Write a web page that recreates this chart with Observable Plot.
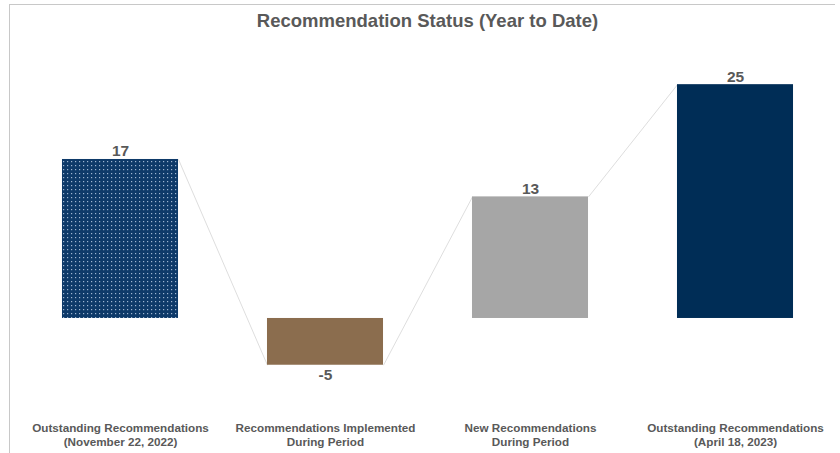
<!DOCTYPE html>
<html>
<head>
<meta charset="utf-8">
<script src="https://cdn.jsdelivr.net/npm/d3@7"></script>
<script src="https://cdn.jsdelivr.net/npm/@observablehq/plot@0.6"></script>
<style>
  html, body { margin: 0; padding: 0; background: #fff; }
  #wrap { position: relative; width: 840px; height: 453px; overflow: hidden; font-family: "Liberation Sans", Arial, sans-serif; }
  #frameTop { position: absolute; left: 9px; top: 4px; width: 826px; height: 0; border-top: 1px solid #c8c8c8; }
  #frameLeft { position: absolute; left: 9px; top: 4px; width: 0; height: 460px; border-left: 1px solid #c8c8c8; }
  #title { position: absolute; left: 0; top: 10px; width: 855px; text-align: center; font-size: 18.5px; font-weight: bold; color: #595959; }
  #chart { position: absolute; left: 0; top: 0; }
</style>
</head>
<body>
<div id="wrap">
  <div id="frameTop"></div>
  <div id="frameLeft"></div>
  <div id="chart"></div>
  <div id="title">Recommendation Status (Year to Date)</div>
</div>
<script>
const categories = [
  "Outstanding Recommendations\n(November 22, 2022)",
  "Recommendations Implemented\nDuring Period",
  "New Recommendations\nDuring Period",
  "Outstanding Recommendations\n(April 18, 2023)"
];
const values = [17, -5, 13, 25];
const labels = ["17", "-5", "13", "25"];
const colors = ["url(#dots)", "#8B6D4E", "#A6A6A6", "#002D56"];

const hw = 0.283;
const data = values.map((v, i) => ({i, v, cat: categories[i], label: labels[i], fill: colors[i]}));
const links = data.slice(0, -1).map((d, k) => ({x1: d.i + hw, y1: d.v, x2: data[k + 1].i - hw, y2: data[k + 1].v}));

const plot = Plot.plot({
  width: 840,
  height: 453,
  marginLeft: 17.5,
  marginRight: 2.5,
  marginTop: 37.4,
  marginBottom: 41.5,
  x: {domain: [-0.5, 3.5], axis: null},
  y: {domain: [-10, 30], axis: null},
  style: {background: "transparent", fontFamily: "Liberation Sans, Arial, sans-serif"},
  marks: [
    Plot.link(links, {x1: "x1", y1: "y1", x2: "x2", y2: "y2", stroke: "#dedede", strokeWidth: 1}),
    Plot.rectY(data, {x1: d => d.i - hw, x2: d => d.i + hw, y1: 0, y2: "v", fill: d => d.fill}),
    Plot.text(data.filter(d => d.v >= 0), {x: "i", y: "v", text: "label", dy: -8, fontSize: 15.5, fontWeight: "bold", fill: "#595959"}),
    Plot.text(data.filter(d => d.v < 0), {x: "i", y: "v", text: "label", dy: 10, fontSize: 15.5, fontWeight: "bold", fill: "#595959"}),
    Plot.text(data, {x: "i", text: "cat", frameAnchor: "bottom", lineAnchor: "top", dy: 10, lineHeight: 1.2, fontSize: 11.7, fontWeight: "bold", fill: "#595959"})
  ]
});
const ns = "http://www.w3.org/2000/svg";
const defs = document.createElementNS(ns, "defs");
defs.innerHTML = `<pattern id="dots" patternUnits="userSpaceOnUse" x="62" y="0" width="4" height="4">
  <rect width="4" height="4" fill="#0E3A69"></rect>
  <rect x="1" y="1" width="1.2" height="1.2" fill="#9fb6d2"></rect>
</pattern>`;
plot.insertBefore(defs, plot.firstChild);
document.getElementById("chart").appendChild(plot);
</script>
</body>
</html>
